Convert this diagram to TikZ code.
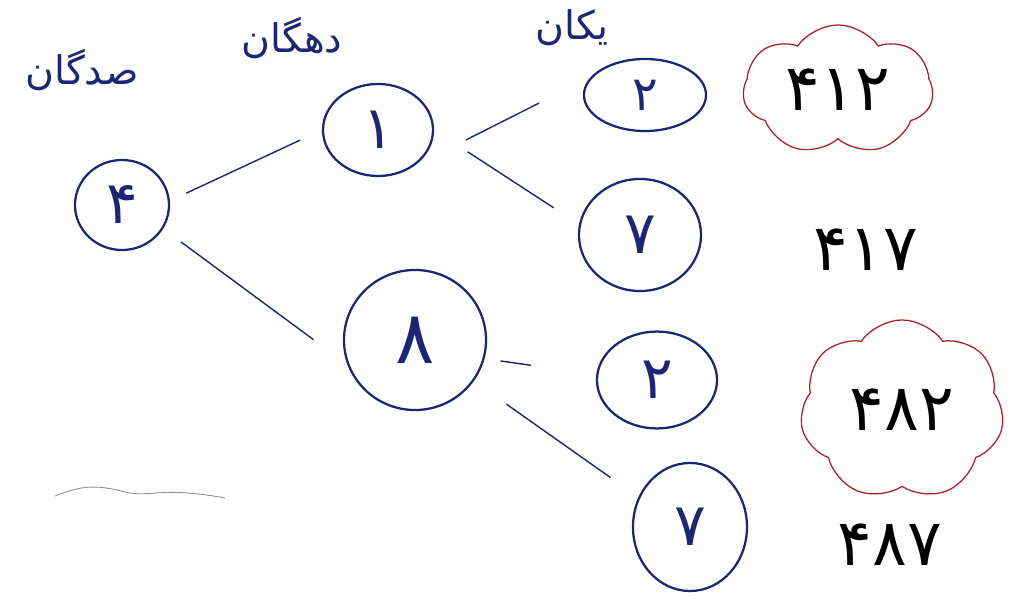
\documentclass[tikz,border=0pt]{standalone}
\usepackage{fontspec}
\newfontfamily\arabicfont[Script=Arabic]{DejaVu Sans}
\TeXXeTstate=1
\usepackage{xcolor}
\usetikzlibrary{shapes.geometric,shapes.symbols,positioning}

\definecolor{ink}{RGB}{28,38,118}
\definecolor{redink}{RGB}{172,32,38}

\begin{document}
\begin{tikzpicture} [x=0.025cm,y=-0.025cm,
	digit/.style={ellipse,draw=ink,line width=1.6pt,text=ink,inner sep=0pt,font=\arabicfont\fontsize{42}{42}\selectfont},
	head/.style={text=ink,font=\arabicfont\fontsize{28}{28}\selectfont},
	result/.style={text=black,font=\arabicfont\fontsize{46}{46}\selectfont},
	bubble/.style={cloud,cloud puffs=7,cloud puff arc=110,draw=redink,line width=0.9pt},
	link/.style={draw=ink,line width=1pt}]
	
	\useasboundingbox [fill=white] (0,0) rectangle (1014,603);
	
	% column titles
	\node (head_H) [head] at (82,70) {\beginR صدگان\endR};
	
	\node (head_T) [head] at (292,38) {\beginR دهگان\endR};
	
	\node (head_U) [head] at (572,28) {\beginR یکان\endR};
	
	
	% tree
	\node (H_4) [digit,minimum width=2.35cm,minimum height=2.25cm] at (122,205) {۴};
	
	\node (T_1) [digit,minimum width=2.75cm,minimum height=2.3cm] at (378,130) {۱};
	
	\node (T_8) [digit,minimum width=3.55cm,minimum height=3.5cm,font=\arabicfont\fontsize{52}{52}\selectfont] at (415,340) {۸};
	
	\node (U_12) [digit,minimum width=3.05cm,minimum height=1.8cm,font=\arabicfont\fontsize{34}{34}\selectfont] at (645,95) {۲};
	
	\node (U_17) [digit,minimum width=3.05cm,minimum height=2.8cm] at (640,235) {۷};
	
	\node (U_82) [digit,minimum width=3cm,minimum height=2.42cm] at (657,380) {۲};
	
	\node (U_87) [digit,minimum width=2.85cm,minimum height=3.2cm] at (690,527) {۷};
	
	
	\draw [link,shorten <=0.45cm,shorten >=0.6cm] (H_4.5) -- (T_1.west);
	
	\draw [link,shorten <=0.55cm,shorten >=1.05cm] (H_4.-30) -- (T_8.200);
	
	\draw [link,shorten <=1.45cm,shorten >=2.4cm] (T_1.-45) -- (U_12.120);
	
	\draw [link,shorten <=1cm,shorten >=0.75cm] (T_1.0) -- (U_17.170);
	
	\draw [link,shorten <=0.4cm,shorten >=1.65cm] (T_8.-15) -- (U_82.175);
	
	\draw [link,shorten <=1cm,shorten >=0.85cm] (T_8.-35) -- (U_87.150);
	
	
	% numbers
	\node (R_412) [bubble,minimum width=4.75cm,minimum height=3.25cm] at (838,90) {};
	
	\node [result] at (R_412) {۴۱۲};
	
	\node (R_417) [result] at (866,250) {۴۱۷};
	
	\node (R_482) [bubble,minimum width=5.1cm,minimum height=4.5cm] at (902,410) {};
	
	\node [result] at (R_482) {۴۸۲};
	
	\node (R_487) [result] at (890,545) {۴۸۷};
	
	
	\draw [black!45,line width=0.6pt] (55,496) .. controls (80,486) and (95,484) .. (125,492) .. controls (150,498) and (160,486) .. (225,498);
	
\end{tikzpicture}
\end{document}
